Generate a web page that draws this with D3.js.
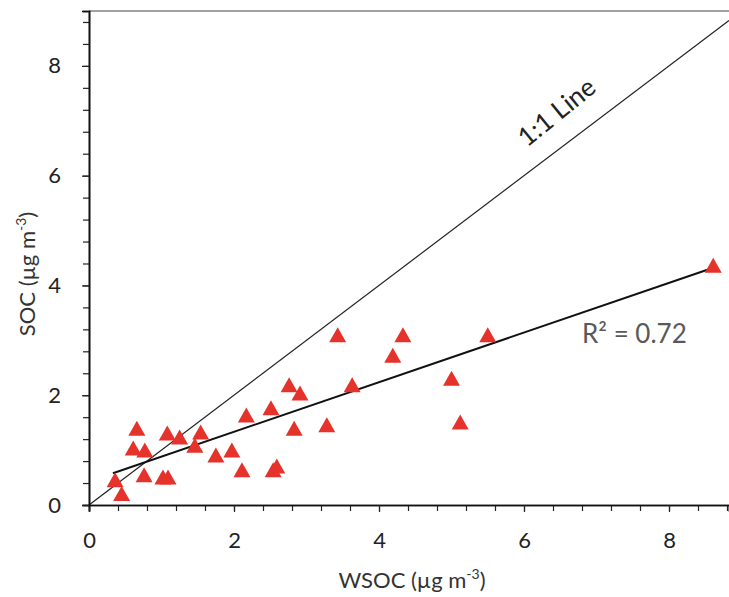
<!DOCTYPE html>
<html>
<head>
<meta charset="utf-8">
<script src="https://cdn.jsdelivr.net/npm/d3@7"></script>
<style>
  body { margin: 0; background: #fff; }
  svg text { font-family: Lato, "Open Sans", sans-serif; }
</style>
</head>
<body>
<div id="chart"></div>
<script>
// measured values (WSOC vs SOC, µg m-3)
var wsoc = [0.36, 0.45, 0.61, 0.66, 0.77, 0.76, 1.02, 1.08, 1.09, 1.25, 1.46, 1.54, 1.75, 1.97, 2.11, 2.17,
            2.51, 2.54, 2.59, 2.76, 2.83, 2.91, 3.28, 3.43, 3.63, 4.19, 4.33, 5.00, 5.12, 5.50, 8.61];
var soc  = [0.46, 0.21, 1.04, 1.40, 1.00, 0.55, 0.51, 1.31, 0.51, 1.24, 1.09, 1.33, 0.91, 1.00, 0.64, 1.64,
            1.77, 0.64, 0.71, 2.19, 1.40, 2.04, 1.46, 3.10, 2.19, 2.73, 3.10, 2.31, 1.51, 3.10, 4.37];
var majorTicks = [0, 2, 4, 6, 8];
var fitSlope = 0.452, fitIntercept = 0.43, fitRange = [0.33, 8.61];
var r2Label = "R² = 0.72";

var w = 729, h = 597
    , marginTop = 11, marginBottom = 92, marginLeft = 89, marginRight = 0
    , contentsWidth = w - marginLeft - marginRight, contentsHeight = h - marginTop - marginBottom;

var svg = d3.select("div#chart")
    .append("svg")
    .attr("width", w)
    .attr("height", h)
    .append("g")
    .attr("transform", "translate(" + marginLeft + ", " + marginTop + ")");

var xScale = d3.scaleLinear().domain([0, contentsWidth / 72.5]).range([0, contentsWidth]);
var yScale = d3.scaleLinear().domain([0, 9]).range([contentsHeight, 0]);

var minorX = d3.range(0, xScale.domain()[1], 0.4);
var minorY = d3.range(0, 9.01, 0.4);

// frame top line
svg.append("line")
    .attr("x1", 0).attr("x2", contentsWidth).attr("y1", 0).attr("y2", 0)
    .attr("stroke", "#444").attr("stroke-width", 1);

// 1:1 line
var one = d3.line().x(function(d) { return xScale(d); }).y(function(d) { return yScale(d); });
svg.append("path")
    .attr("d", one([0, xScale.domain()[1]]))
    .attr("stroke", "#222").attr("stroke-width", 1.2).attr("fill", "none");

// regression line
svg.append("path")
    .attr("d", d3.line()
        .x(function(d) { return xScale(d); })
        .y(function(d) { return yScale(fitIntercept + fitSlope * d); })(fitRange))
    .attr("stroke", "#111").attr("stroke-width", 2).attr("fill", "none");

// points
var tw = 17, th = 15;
var tri = "M0," + (-th / 2) + "L" + (tw / 2) + "," + (th / 2) + "L" + (-tw / 2) + "," + (th / 2) + "Z";
svg.append("g")
    .selectAll("path")
    .data(d3.zip(wsoc, soc))
    .enter()
    .append("path")
    .attr("d", tri)
    .attr("transform", function(d) { return "translate(" + xScale(d[0]) + "," + yScale(d[1]) + ")"; })
    .attr("fill", "#e5322a");

// axes
var xMinor = d3.axisBottom(xScale).tickValues(minorX).tickSize(6).tickFormat("");
var xMajor = d3.axisBottom(xScale).tickValues(majorTicks).tickSize(7).tickPadding(20);
var yMinor = d3.axisLeft(yScale).tickValues(minorY).tickSize(6).tickFormat("");
var yMajor = d3.axisLeft(yScale).tickValues(majorTicks).tickSize(7).tickPadding(21);

[xMinor, xMajor].forEach(function(a) {
  svg.append("g").attr("class", "x axis")
      .attr("transform", "translate(0, " + contentsHeight + ")")
      .call(a);
});
[yMinor, yMajor].forEach(function(a) {
  svg.append("g").attr("class", "y axis").call(a);
});
svg.selectAll(".axis path.domain").attr("stroke", "#111").attr("stroke-width", 1.6);
svg.selectAll(".axis line").attr("stroke", "#222").attr("stroke-width", 1.2);
svg.selectAll(".axis text").attr("font-size", 22).attr("fill", "#222")
    .style("font-family", "Lato, 'Open Sans', sans-serif");

// axis titles
var xt = svg.append("text")
    .attr("x", 412 - marginLeft).attr("y", 588 - marginTop)
    .attr("text-anchor", "middle").attr("font-size", 22).attr("fill", "#333");
xt.append("tspan").text("WSOC (µg m");
xt.append("tspan").text("-3").attr("font-size", 14).attr("dy", -9);
xt.append("tspan").text(")").attr("dy", 9);

var yt = svg.append("text")
    .attr("transform", "translate(" + (35 - marginLeft) + "," + (274 - marginTop) + ") rotate(-90)")
    .attr("text-anchor", "middle").attr("font-size", 22).attr("fill", "#333");
yt.append("tspan").text("SOC (µg m");
yt.append("tspan").text("-3").attr("font-size", 14).attr("dy", -9);
yt.append("tspan").text(")").attr("dy", 9);

// annotations
var ang = Math.atan2(yScale(0) - yScale(1), xScale(1) - xScale(0)) * 180 / Math.PI;
svg.append("text")
    .attr("transform", "translate(" + xScale(6.72) + "," + yScale(6.72) + ") rotate(" + (-ang - 2) + ")")
    .attr("y", -22)
    .attr("text-anchor", "middle").attr("font-size", 26).attr("fill", "#222")
    .text("1:1 Line");

svg.append("text")
    .attr("x", xScale(6.8)).attr("y", yScale(2.95))
    .attr("font-size", 26).attr("fill", "#595959")
    .text(r2Label);
</script>
</body>
</html>
